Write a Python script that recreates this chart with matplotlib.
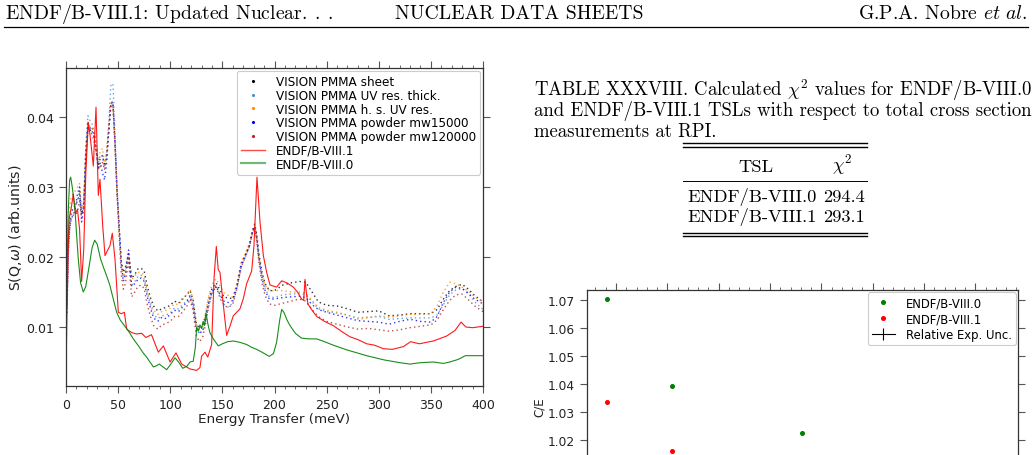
import matplotlib
matplotlib.use('Agg')
import matplotlib.pyplot as plt
from matplotlib.lines import Line2D
from matplotlib.ticker import MultipleLocator, AutoMinorLocator, FixedLocator

# ---------------- data: left chart (S(Q,w) vs energy transfer) ----------------
E_vis = [1, 2, 3.5, 5, 7, 9, 11, 13, 15, 17, 19, 21, 23, 25, 27, 29, 31, 33, 35, 37,
         39, 41, 43, 45, 47, 49, 51, 53, 55, 57, 60, 63, 66, 69, 72, 75, 78, 81, 84, 88,
         92, 96, 100, 104, 108, 112, 116, 119, 122, 125, 128, 131, 134, 137, 140, 144, 148, 152, 156, 160,
         164, 168, 172, 176, 179, 181, 183, 185, 188, 191, 195, 200, 208, 216, 224, 230, 236, 242, 250, 260,
         270, 280, 290, 300, 310, 320, 330, 340, 350, 356, 362, 368, 374, 380, 386, 392, 400]

vis_sheet = [0.014, 0.022, 0.025, 0.0265, 0.027, 0.0275, 0.028, 0.029, 0.0262, 0.027, 0.034, 0.0385, 0.038, 0.0385, 0.0375, 0.0355, 0.033, 0.0342, 0.0345, 0.033,
             0.0345, 0.038, 0.0415, 0.0418, 0.036, 0.029, 0.024, 0.0195, 0.0178, 0.0185, 0.0205, 0.017, 0.0175, 0.0183, 0.0184, 0.018, 0.0158, 0.0142, 0.013, 0.0123,
             0.0126, 0.0128, 0.0131, 0.0137, 0.0134, 0.0141, 0.0146, 0.0152, 0.0138, 0.0105, 0.0098, 0.0100, 0.0118, 0.0140, 0.0155, 0.0163, 0.0152, 0.0142, 0.0142, 0.0140,
             0.0160, 0.019, 0.0203, 0.0218, 0.0238, 0.0247, 0.0232, 0.0205, 0.0178, 0.0162, 0.0152, 0.0152, 0.0160, 0.0163, 0.0165, 0.0164, 0.0150, 0.0136, 0.0131, 0.0130,
             0.0126, 0.0121, 0.0122, 0.0123, 0.0116, 0.0117, 0.0119, 0.0119, 0.0119, 0.0125, 0.0140, 0.0152, 0.0158, 0.0161, 0.0154, 0.0145, 0.0136]

vis_uv_thick = [0.012, 0.021, 0.0245, 0.026, 0.027, 0.0272, 0.028, 0.0295, 0.026, 0.028, 0.036, 0.0402, 0.0395, 0.039, 0.038, 0.036, 0.0335, 0.0345, 0.0345, 0.0325,
                0.035, 0.039, 0.0445, 0.0448, 0.038, 0.030, 0.024, 0.019, 0.017, 0.0175, 0.0200, 0.016, 0.0165, 0.0172, 0.0174, 0.0168, 0.0148, 0.0132, 0.0118, 0.0112,
                0.0116, 0.0117, 0.012, 0.0127, 0.0126, 0.0132, 0.0138, 0.0146, 0.013, 0.0098, 0.0090, 0.0094, 0.0112, 0.0135, 0.015, 0.016, 0.0145, 0.0132, 0.0128, 0.0135,
                0.0155, 0.0185, 0.020, 0.0215, 0.0235, 0.0245, 0.023, 0.020, 0.0172, 0.0155, 0.0143, 0.0142, 0.0146, 0.0147, 0.0148, 0.0146, 0.0136, 0.0126, 0.0122, 0.0120,
                0.0117, 0.0113, 0.0114, 0.0115, 0.0111, 0.0112, 0.0113, 0.0113, 0.0113, 0.0117, 0.0132, 0.0146, 0.0153, 0.0155, 0.0148, 0.0136, 0.0125]

vis_hs_uv = [0.013, 0.023, 0.027, 0.0285, 0.029, 0.0295, 0.030, 0.0305, 0.027, 0.028, 0.035, 0.0393, 0.0385, 0.0385, 0.0378, 0.036, 0.0335, 0.0352, 0.0355, 0.0335,
             0.035, 0.0385, 0.042, 0.042, 0.036, 0.029, 0.0235, 0.019, 0.0172, 0.018, 0.0205, 0.0168, 0.0173, 0.0178, 0.0178, 0.0174, 0.0152, 0.0136, 0.0124, 0.0118,
             0.0122, 0.0124, 0.0127, 0.0133, 0.0132, 0.0139, 0.0147, 0.0154, 0.0138, 0.0104, 0.0097, 0.0100, 0.0120, 0.0145, 0.016, 0.0169, 0.0158, 0.0148, 0.0145, 0.0143,
             0.0162, 0.0192, 0.0205, 0.022, 0.024, 0.0245, 0.0228, 0.020, 0.0175, 0.016, 0.0152, 0.0152, 0.0152, 0.0150, 0.0150, 0.0148, 0.0138, 0.0128, 0.0124, 0.0121,
             0.0117, 0.0111, 0.0113, 0.0116, 0.0114, 0.0116, 0.0118, 0.0118, 0.0119, 0.0130, 0.0150, 0.0164, 0.0162, 0.0157, 0.0151, 0.0143, 0.0135]

vis_mw15000 = [0.013, 0.020, 0.024, 0.0255, 0.026, 0.027, 0.029, 0.030, 0.025, 0.027, 0.035, 0.039, 0.0385, 0.038, 0.037, 0.035, 0.0325, 0.0335, 0.032, 0.031,
               0.0335, 0.038, 0.042, 0.0422, 0.0365, 0.0295, 0.0245, 0.019, 0.0165, 0.0175, 0.021, 0.0158, 0.0162, 0.0168, 0.0170, 0.0165, 0.0143, 0.0127, 0.0113, 0.0108,
               0.0114, 0.0112, 0.0118, 0.0124, 0.0122, 0.0129, 0.0136, 0.0144, 0.0128, 0.0096, 0.0092, 0.0094, 0.0110, 0.0134, 0.015, 0.0158, 0.0145, 0.0136, 0.0135, 0.0138,
               0.0158, 0.0188, 0.0202, 0.0216, 0.0238, 0.0243, 0.0225, 0.0198, 0.0170, 0.0152, 0.0140, 0.0140, 0.0142, 0.0143, 0.0144, 0.0142, 0.0132, 0.0125, 0.0121, 0.0117,
               0.0113, 0.0109, 0.0108, 0.0107, 0.0104, 0.0108, 0.0111, 0.0108, 0.0107, 0.0115, 0.0135, 0.0150, 0.0157, 0.0155, 0.0148, 0.0140, 0.0133]

vis_mw120000 = [0.012, 0.020, 0.024, 0.0255, 0.026, 0.026, 0.0265, 0.028, 0.0255, 0.027, 0.034, 0.0385, 0.038, 0.0375, 0.0365, 0.035, 0.0325, 0.033, 0.0335, 0.0325,
                0.034, 0.038, 0.042, 0.0418, 0.036, 0.029, 0.023, 0.0175, 0.0154, 0.0162, 0.0195, 0.0143, 0.0150, 0.0158, 0.0160, 0.0155, 0.0132, 0.0115, 0.0102, 0.0097,
                0.0103, 0.0105, 0.0108, 0.0115, 0.0115, 0.0122, 0.0130, 0.0140, 0.0122, 0.0088, 0.0079, 0.0085, 0.0105, 0.0130, 0.0148, 0.0158, 0.0140, 0.0130, 0.0128, 0.0133,
                0.0155, 0.0185, 0.0200, 0.0215, 0.0235, 0.024, 0.0222, 0.0192, 0.0162, 0.0145, 0.0133, 0.0131, 0.0134, 0.0137, 0.0140, 0.0137, 0.0125, 0.0115, 0.0108, 0.0104,
                0.0100, 0.0097, 0.0098, 0.0096, 0.0094, 0.0096, 0.0099, 0.0101, 0.0103, 0.0110, 0.0125, 0.0138, 0.0146, 0.0147, 0.0139, 0.0130, 0.0122]

E_b81 = [0, 1, 2, 3, 5, 7, 9, 11, 13, 15, 17, 19, 21.4, 23, 26.2, 28.8, 31, 32.6, 35.2, 37.4,
         40, 42.2, 44.4, 47, 50.2, 53, 56, 58.2, 63, 67.7, 72.5, 76.7, 82, 88.6, 93.4, 99.8, 105.5, 111, 119, 125.3,
         128.5, 130, 133.3, 136, 139.7, 142, 144.2, 146, 147.7, 150.3, 154.1, 157, 160.5, 166.9, 170, 173.3, 176, 178.1, 180.3, 183.2,
         186.1, 189.3, 192.5, 195.7, 202, 206.9, 212, 218, 222, 226, 228, 229.3, 230.5, 232, 236, 240.5, 248, 256.4, 264, 272.4,
         280, 288.4, 296, 304.4, 313, 323.6, 330.6, 339, 352.3, 365, 373.1, 379, 383.5, 390, 400]
S_b81 = [0.0042, 0.012, 0.021, 0.0255, 0.027, 0.029, 0.0262, 0.0268, 0.024, 0.0165, 0.021, 0.032, 0.0392, 0.0375, 0.033, 0.0414, 0.0288, 0.0311, 0.0245, 0.0202,
         0.0210, 0.0216, 0.0234, 0.0197, 0.0121, 0.0119, 0.0121, 0.0097, 0.0092, 0.0090, 0.0091, 0.0085, 0.0089, 0.0064, 0.0073, 0.0050, 0.0063, 0.0047, 0.0040, 0.0038,
         0.0042, 0.0058, 0.0064, 0.0057, 0.0075, 0.0170, 0.0215, 0.0182, 0.0178, 0.0140, 0.0088, 0.0100, 0.0116, 0.0126, 0.0140, 0.0162, 0.0172, 0.0180, 0.0216, 0.0314,
         0.0250, 0.0202, 0.0178, 0.0160, 0.0157, 0.0166, 0.0163, 0.0157, 0.0150, 0.0140, 0.0138, 0.0168, 0.0150, 0.0133, 0.0124, 0.0115, 0.0108, 0.0102, 0.0094, 0.0086,
         0.0082, 0.0076, 0.0074, 0.0069, 0.0068, 0.0072, 0.0079, 0.0076, 0.0080, 0.0087, 0.0095, 0.0107, 0.0100, 0.0099, 0.0101]

E_b80 = [0, 1, 2, 3.5, 4.5, 6, 8.6, 10, 11.8, 14, 16.6, 19, 22, 25, 27.5, 30, 33, 36, 39, 42,
         45, 48.6, 52, 56, 60, 64.6, 70, 74, 77.4, 80, 83.8, 86, 89.5, 93, 96.6, 100, 104.6, 108, 112, 116,
         119, 122, 124, 125.4, 127, 128.5, 130, 131.5, 133, 134.3, 136, 138, 141.3, 146.1, 150, 155, 160.5, 167, 173.3, 178,
         182.9, 188, 195, 199, 202, 205, 206.9, 209, 212, 214.9, 220, 226, 233, 240.5, 248, 256.4, 270, 288.4, 305, 320.4,
         330, 340, 352.3, 362, 368, 374.8, 378, 383, 390, 400]
S_b80 = [0.0085, 0.017, 0.026, 0.031, 0.0314, 0.0300, 0.0269, 0.0235, 0.0197, 0.0163, 0.0150, 0.0158, 0.0185, 0.0213, 0.0224, 0.0218, 0.0198, 0.0185, 0.0173, 0.0160,
         0.0142, 0.0121, 0.0110, 0.0102, 0.0094, 0.0083, 0.0072, 0.0063, 0.0057, 0.0051, 0.0043, 0.0044, 0.0047, 0.0043, 0.0039, 0.0046, 0.0056, 0.0050, 0.0041, 0.0044,
         0.0050, 0.0051, 0.0070, 0.0100, 0.0094, 0.0103, 0.0098, 0.0108, 0.0103, 0.0120, 0.0105, 0.0092, 0.0083, 0.0073, 0.0076, 0.0079, 0.0080, 0.0078, 0.0075, 0.0071,
         0.0068, 0.0064, 0.0058, 0.0062, 0.0078, 0.0110, 0.0125, 0.0121, 0.0110, 0.0102, 0.0091, 0.0084, 0.0083, 0.0083, 0.0079, 0.0074, 0.0067, 0.0059, 0.0053, 0.0049,
         0.0047, 0.0049, 0.0050, 0.0048, 0.0050, 0.0053, 0.0055, 0.0059, 0.0059, 0.0059]

vis_labels = ['VISION PMMA sheet', 'VISION PMMA UV res. thick.', 'VISION PMMA h. s. UV res.',
              'VISION PMMA powder mw15000', 'VISION PMMA powder mw120000']
vis_colors = ['black', '#4a90d0', 'darkorange', 'blue', 'firebrick']

# ---------------- data: right chart (C/E) ----------------
ce_x_b80 = [0.825, 2.09, 4.62]
ce_b80 = [1.0705, 1.0393, 1.0224]
ce_x_b81 = [0.825, 2.09]
ce_b81 = [1.0337, 1.0160]
unc_x = [0.825, 2.09, 4.62]
unc_y = [1.0, 1.0, 1.0]
unc_err = [0.01, 0.01, 0.01]
ce_yticks = [1.02, 1.03, 1.04, 1.05, 1.06, 1.07]

# ---------------- table data ----------------
table_rows = [('ENDF/B-VIII.0', '294.4'), ('ENDF/B-VIII.1', '293.1')]

W, H = 1032, 456
fig = plt.figure(figsize=(W / 100, H / 100), dpi=100)


def fx(x):
    return x / W


def fy(y):
    return 1 - y / H


SER = dict(family='cmr10', math_fontfamily='cm', color='black')

# header
FSH = 14.2
fig.text(fx(5), fy(14), r'ENDF/B-VIII.1: Updated Nuclear$.\:.\:.$', fontsize=FSH, ha='left', va='center', **SER)
fig.text(fx(519), fy(14), 'NUCLEAR DATA SHEETS', fontsize=FSH, ha='center', va='center', **SER)
fig.text(fx(1027), fy(14), r'G.P.A. Nobre $\mathit{et\ al.}$', fontsize=FSH, ha='right', va='center', **SER)
fig.add_artist(Line2D([fx(4), fx(1028)], [fy(28), fy(28)], color='black', lw=0.9))

# caption
cap = [r'TABLE XXXVIII. Calculated $\chi^2$ values for ENDF/B-VIII.0',
       'and ENDF/B-VIII.1 TSLs with respect to total cross section',
       'measurements at RPI.']
for i, line in enumerate(cap):
    fig.text(fx(534), fy(90 + 21 * i), line, fontsize=13.5, ha='left', va='center', **SER)

# table
FST = 13.3
for yy in (144, 147.5, 233.5, 237):
    fig.add_artist(Line2D([fx(683), fx(867)], [fy(yy), fy(yy)], color='black', lw=1.0))
fig.add_artist(Line2D([fx(683), fx(867)], [fy(182), fy(182)], color='black', lw=0.7))
fig.text(fx(756), fy(167), 'TSL', fontsize=FST, ha='center', va='center', **SER)
fig.text(fx(842), fy(165), r'$\chi^2$', fontsize=FST, ha='center', va='center', **SER)
for i, (name, val) in enumerate(table_rows):
    fig.text(fx(687), fy(197 + 20 * i), name, fontsize=FST, ha='left', va='center', **SER)
    fig.text(fx(823), fy(197 + 20 * i), val, fontsize=FST, ha='left', va='center', **SER)

SPINE = '#333333'
TICKC = '#555555'
LABC = '#222222'

# ---------------- left chart ----------------
ax = fig.add_axes([fx(66), fy(387), (483 - 66) / W, (387 - 69) / H])
series = [vis_sheet, vis_uv_thick, vis_hs_uv, vis_mw15000, vis_mw120000]
handles = []
for vals, lab, col in zip(series, vis_labels, vis_colors):
    ax.plot(E_vis, vals, ls=(0, (1, 2.2)), lw=1.0, color=col, alpha=0.8)
    handles.append(Line2D([], [], ls='none', marker='.', ms=2.5, color=col, label=lab))
ax.plot(E_b81, S_b81, color='red', lw=0.8, alpha=0.9)
ax.plot(E_b80, S_b80, color='green', lw=0.8, alpha=0.9)
handles.append(Line2D([], [], color='red', lw=1.0, alpha=0.7, label='ENDF/B-VIII.1'))
handles.append(Line2D([], [], color='green', lw=1.6, alpha=0.55, label='ENDF/B-VIII.0'))

ax.set_xlim(0, 400)
ax.set_ylim(0.00157, 0.047)
ax.xaxis.set_major_locator(MultipleLocator(50))
ax.xaxis.set_minor_locator(MultipleLocator(10))
ax.yaxis.set_major_locator(MultipleLocator(0.01))
ax.tick_params(axis='both', which='both', direction='out', top=True, right=True,
               color=TICKC, labelsize=9, labelcolor=LABC)
ax.tick_params(which='major', length=5, width=0.8)
ax.tick_params(which='minor', length=2.5, width=0.6)
for s in ax.spines.values():
    s.set_color(SPINE)
    s.set_linewidth(0.9)
ax.set_xlabel('Energy Transfer (meV)', fontsize=9.7, color=LABC, labelpad=1)
ax.set_ylabel(r'S(Q,$\omega$) (arb.units)', fontsize=10.2, color=LABC, labelpad=1.5)
leg = ax.legend(handles=handles, loc='upper right', fontsize=8.65, labelspacing=0.06,
                borderaxespad=0.25, handlelength=2.0, handletextpad=0.9, borderpad=0.35,
                fancybox=True, framealpha=1.0)
leg.get_frame().set_edgecolor('#cccccc')
leg.get_frame().set_linewidth(0.8)

# ---------------- right chart ----------------
ax2 = fig.add_axes([fx(587), fy(600), (1018 - 587) / W, (600 - 291) / H])
ax2.plot(ce_x_b80, ce_b80, ls='none', marker='o', ms=2.6, color='green', label='ENDF/B-VIII.0')
ax2.plot(ce_x_b81, ce_b81, ls='none', marker='o', ms=2.6, color='red', label='ENDF/B-VIII.1')
ax2.errorbar(unc_x, unc_y, yerr=unc_err, color='black', lw=0.8, label='Relative Exp. Unc.')
ax2.set_xlim(0.435, 8.83)
ax2.set_ylim(0.9632, 1.0736)
ax2.xaxis.set_major_locator(MultipleLocator(1))
ax2.xaxis.set_minor_locator(AutoMinorLocator(5))
ax2.yaxis.set_major_locator(FixedLocator(ce_yticks))
ax2.tick_params(axis='both', which='both', direction='out', top=True, right=True,
                color=TICKC, labelsize=8.8, labelcolor=LABC, labelbottom=False)
ax2.tick_params(which='major', length=5, width=0.8)
ax2.tick_params(which='minor', length=2.5, width=0.6)
for s in ax2.spines.values():
    s.set_color(SPINE)
    s.set_linewidth(0.9)
ax2.set_ylabel('C/E', fontsize=8.6, color=LABC)
ax2.yaxis.set_label_coords(-0.095, (600 - 407) / (600 - 291))
leg2 = ax2.legend(loc='upper right', fontsize=8.4, labelspacing=0.25, borderaxespad=0.2,
                  handlelength=2.0, handletextpad=0.9, borderpad=0.35, fancybox=True, framealpha=1.0)
leg2.get_frame().set_edgecolor('#cccccc')
leg2.get_frame().set_linewidth(0.8)

fig.savefig('out.png', dpi=100)
